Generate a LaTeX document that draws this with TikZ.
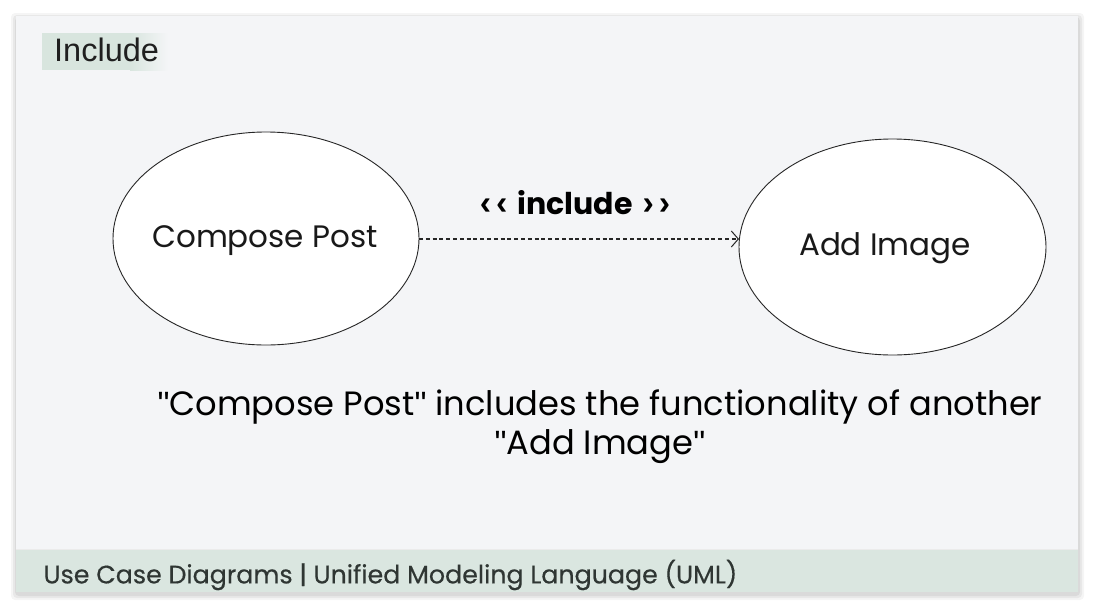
\documentclass[tikz,border=0pt]{standalone}
\usepackage{fontspec}
\setmainfont{Poppins}
\newfontfamily\arialfont{Liberation Sans}
\newfontfamily\popmed{Poppins}[FakeBold=0.4]
\usetikzlibrary{arrows.meta,shapes.geometric}
\definecolor{cardbg}{HTML}{F4F5F7}
\definecolor{footbg}{HTML}{DAE6E0}
\definecolor{tagbg}{HTML}{D8E5DE}
\definecolor{foottext}{HTML}{2F3633}
\newcommand{\sq}{{\arialfont"}}
\newcommand{\chevl}{{\arialfont\bfseries\fontsize{34}{34}\selectfont‹}}
\newcommand{\chevr}{{\arialfont\bfseries\fontsize{34}{34}\selectfont›}}
\tikzset{
  usecase/.style={ellipse, draw=black!85, line width=0.9pt, fill=white, inner sep=0pt},
  uclabel/.style={font=\fontsize{31}{36}\selectfont, text=black!90},
  incarrow/.style={draw=black!85, line width=1.4pt, dash pattern=on 4pt off 2.8pt, -{Straight Barb[length=7pt,width=16pt,line width=1pt]}},
}
\begin{document}
\begin{tikzpicture}[x=1pt,y=-1pt]
\useasboundingbox (0,0) rectangle (1094,608);
\fill[white] (0,0) rectangle (1094,608);
% shadow
\foreach \i/\o in {6/0.04,4/0.05,2/0.06}{
  \fill[black,opacity=\o,rounded corners=4pt] (16-\i+1,16-\i+3) rectangle (1078+\i,592+\i+2);
}
\fill[cardbg] (16,16) rectangle (1078,592);
\fill[footbg] (16,549) rectangle (1078,592);
\draw[white!92!black, line width=0.6pt] (16,549) -- (1078,549);
% Include tag
\fill[tagbg] (42,33) rectangle (130,70);
\shade[left color=tagbg, right color=cardbg] (130,33) rectangle (168,70);
\node[anchor=base west, inner sep=0pt, font=\arialfont\fontsize{32.5}{36}\selectfont, text=black!88] (tag) at (54,61) {Include};
% use cases
\node[usecase, minimum width=306pt, minimum height=213pt] (cp) at (266,238.5) {};
\node[uclabel] (cpl) at (265,241) {Compose Post};
\node[usecase, minimum width=307pt, minimum height=216pt] (ai) at (892.5,247) {};
\node[uclabel] (ail) at (885,248) {Add Image};
\coordinate (s) at (419,239);
\coordinate (e) at (739,239);
\draw[incarrow] (s) -- (e);
\node[font=\bfseries\fontsize{30}{34}\selectfont] (inc) at (575,203) {\chevl\kern5pt\chevl\kern10pt include\kern10pt\chevr\kern5pt\chevr};
\node[align=center, font=\fontsize{33.7}{39}\selectfont, text=black] (desc) at (600,427) {\sq Compose Post\sq{} includes the functionality of another\\\sq Add Image\sq};
\node[anchor=west, font=\popmed\fontsize{25.3}{28}\selectfont, text=foottext] (foot) at (40,575) {Use Case Diagrams | Unified Modeling Language (UML)};
\end{tikzpicture}
\end{document}
